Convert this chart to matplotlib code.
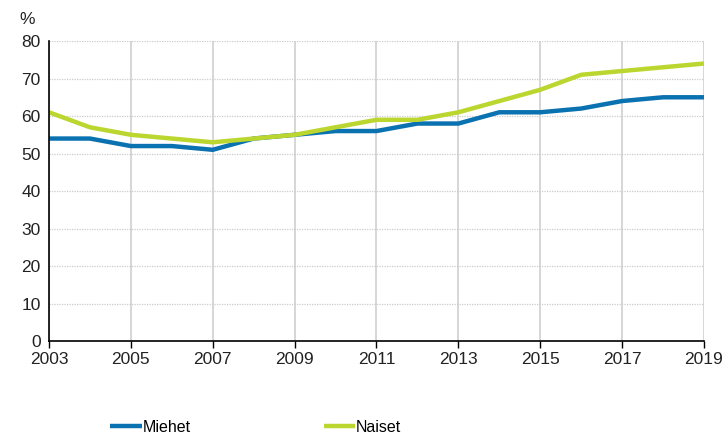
import matplotlib.pyplot as plt

vuodet = list(range(2003, 2020))
miehet = [54, 54, 52, 52, 51, 54, 55, 56, 56, 58, 58, 61, 61, 62, 64, 65, 65]
naiset = [61, 57, 55, 54, 53, 54, 55, 57, 59, 59, 61, 64, 67, 71, 72, 73, 74]
x_tikit = list(range(2003, 2020, 2))
y_tikit = list(range(0, 81, 10))

plt.rcParams['font.family'] = ['Liberation Sans', 'DejaVu Sans']

fig = plt.figure(figsize=(7.25, 4.34), dpi=100)
ax = fig.add_axes([0.0676, 0.214, 0.9034, 0.6915])

ax.plot(vuodet, miehet, color='#0a72b0', lw=3.2, label='Miehet', solid_capstyle='butt')
ax.plot(vuodet, naiset, color='#bcd630', lw=3.2, label='Naiset', solid_capstyle='butt')

ax.set_xlim(2003, 2019)
ax.set_ylim(0, 80)
ax.set_xticks(x_tikit)
ax.set_yticks(y_tikit)
ax.tick_params(axis='both', labelsize=12.5, colors='#222222')
ax.tick_params(axis='y', length=0, pad=6)
ax.tick_params(axis='x', length=5, width=1, direction='out', color='black', pad=3)

ax.grid(axis='y', color='#cccccc', linestyle=(0, (1, 1)), lw=0.9)
ax.grid(axis='x', color='#cccccc', linestyle='-', lw=1.1)
ax.set_axisbelow(True)

for s in ['top', 'right']:
    ax.spines[s].set_visible(False)
for s in ['left', 'bottom']:
    ax.spines[s].set_color('black')
    ax.spines[s].set_linewidth(1.2)

fig.text(0.027, 0.955, '%', fontsize=12.5, color='#222222', va='center')

fig.legend(loc='center left', bbox_to_anchor=(0.1435, 0.015), ncol=2, frameon=False,
           fontsize=11.5, handlelength=1.95, handletextpad=0.08, columnspacing=8.3,
           borderaxespad=0)

fig.savefig('out.png', dpi=100)
